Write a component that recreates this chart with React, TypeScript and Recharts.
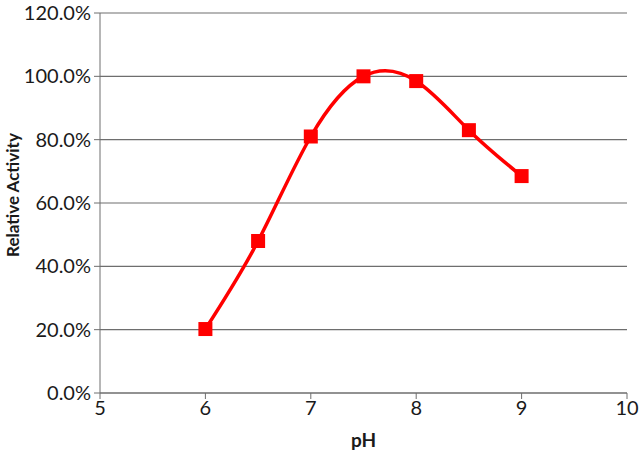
import React from 'react';
import { LineChart, CartesianGrid, XAxis, YAxis, Line, Label } from 'recharts';

const phValues = [6, 6.5, 7, 7.5, 8, 8.5, 9];
const activity = [20.2, 48.0, 81.0, 100.0, 98.5, 83.0, 68.5];
const xTicks = [5, 6, 7, 8, 9, 10];
const yTicks = [0, 20, 40, 60, 80, 100, 120];

const data = phValues.map((ph, i) => ({ ph, activity: activity[i] }));

const FONT = 'Lato, "Open Sans", sans-serif';

const SquareDot = (props: any) => {
    const { cx, cy } = props;
    if (cx == null || cy == null) return null;
    return <rect x={cx - 7} y={cy - 7} width={14} height={14} fill="#ff0000" />;
};

export default function App() {
    return (
        <div style={{ position: 'absolute', left: 0, top: 0, width: 640, height: 453, background: '#fff' }}>
            <LineChart width={640} height={453} data={data} margin={{ top: 13, right: 13, bottom: 0, left: 0 }}>
                <CartesianGrid vertical={false} stroke="#6e6e6e" strokeWidth={1.2} />
                <XAxis
                    dataKey="ph"
                    type="number"
                    domain={[5, 10]}
                    ticks={xTicks}
                    height={60}
                    stroke="#6e6e6e"
                    tickLine={{ stroke: '#6e6e6e' }}
                    tickSize={6}
                    tickMargin={2}
                    tick={{ fontSize: 20, fill: '#1a1a1a', fontFamily: FONT }}
                >
                    <Label value="pH" position="insideBottom" offset={6} style={{ fontSize: 19, fontWeight: 700, fill: '#1a1a1a', fontFamily: FONT }} />
                </XAxis>
                <YAxis
                    type="number"
                    domain={[0, 120]}
                    ticks={yTicks}
                    width={100}
                    stroke="#6e6e6e"
                    tickSize={6}
                    tickMargin={3}
                    tickFormatter={(v: number) => `${v.toFixed(1)}%`}
                    tick={{ fontSize: 20, fill: '#1a1a1a', fontFamily: FONT }}
                >
                    <Label value="Relative Activity" angle={-90} position="insideLeft" offset={13} dy={-8} style={{ textAnchor: 'middle', fontSize: 17, fontWeight: 700, fill: '#1a1a1a', fontFamily: FONT }} />
                </YAxis>
                <Line
                    type="natural"
                    dataKey="activity"
                    stroke="#ff0000"
                    strokeWidth={3.5}
                    dot={<SquareDot />}
                    activeDot={false}
                    isAnimationActive={false}
                />
            </LineChart>
        </div>
    );
}
